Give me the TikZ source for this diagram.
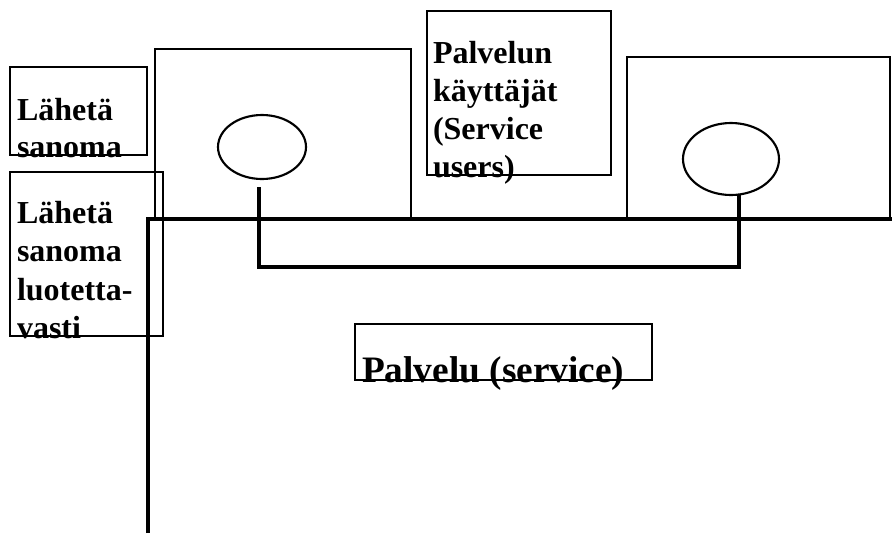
\documentclass[tikz,border=0pt]{standalone}
\usepackage{fontspec}
\setmainfont{Liberation Serif}
\usetikzlibrary{shapes.geometric}
\begin{document}
\begin{tikzpicture}[x=0.75pt,y=-0.75pt,
  box/.style={draw, line width=1.7pt, rectangle, inner sep=0pt, outer sep=0pt, anchor=north west},
  oval/.style={draw, ellipse, line width=1.6pt, inner sep=0pt, outer sep=0pt},
  lbl/.style={anchor=base west, inner sep=0pt, outer sep=0pt, font=\fontsize{24pt}{28pt}\selectfont\bfseries},
  biglbl/.style={anchor=base west, inner sep=0pt, outer sep=0pt, font=\fontsize{28pt}{33pt}\selectfont\bfseries},
  bus/.style={line width=3.4pt, line join=miter},
  link/.style={line width=2.7pt}]
\useasboundingbox (0,0) rectangle (892,533);
% boxes
\node[box, minimum width=137*0.75pt, minimum height=88*0.75pt] (boxA) at (10,67) {};
\node[box, minimum width=153*0.75pt, minimum height=164*0.75pt] (boxB) at (10,172) {};
\node[box, minimum width=256*0.75pt, minimum height=170*0.75pt] (boxC) at (155,49) {};
\node[box, minimum width=184*0.75pt, minimum height=164*0.75pt] (boxD) at (427,11) {};
\node[box, minimum width=263*0.75pt, minimum height=162*0.75pt] (boxE) at (627,57) {};
\node[box, minimum width=297*0.75pt, minimum height=56*0.75pt] (boxF) at (355,324) {};
% ellipses
\node[oval, minimum width=88*0.75pt, minimum height=64*0.75pt] (ellL) at (262,147) {};
\node[oval, minimum width=96*0.75pt, minimum height=72*0.75pt] (ellR) at (731,159) {};
% texts
\node[lbl] (a1) at (17,120) {Lähetä};
\node[lbl] (a2) at (17,157) {sanoma};
\node[lbl] (b1) at (17,223) {Lähetä};
\node[lbl] (b2) at (17,261) {sanoma};
\node[lbl] (b3) at (17,300) {luotetta-};
\node[lbl] (b4) at (17,338) {vasti};
\node[lbl] (d1) at (433,63) {Palvelun};
\node[lbl] (d2) at (433,101) {käyttäjät};
\node[lbl] (d3) at (433,139) {(Service};
\node[lbl] (d4) at (433,177) {users)};
\node[biglbl] (f1) at (362,382) {Palvelu (service)};
% bus line
\coordinate (busBot) at (148,533);
\coordinate (busCorner) at (148,219);
\coordinate (busEnd) at (892,219);
\draw[bus] (busBot) -- (busCorner) -- (busEnd);
% link between ellipses
\coordinate (linkL) at (259,187);
\coordinate (linkLow) at (739,267);
\coordinate (linkR) at (739,195);
\draw[link] (linkL) |- (linkLow) -- (linkR);
\end{tikzpicture}
\end{document}
